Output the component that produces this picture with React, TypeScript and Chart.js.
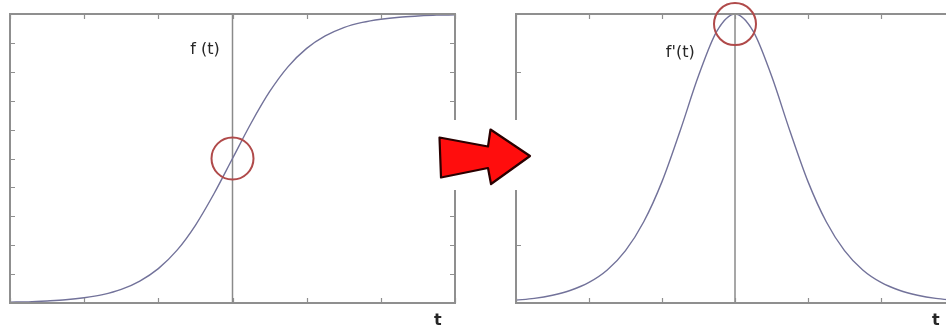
import React, { useEffect, useRef } from "react";
import { Chart, registerables } from "chart.js";

Chart.register(...registerables);

// ---- data ----
const tValues = [-3, -2.75, -2.5, -2.25, -2, -1.75, -1.5, -1.25, -1, -0.75, -0.5, -0.25, 0, 0.25, 0.5, 0.75, 1, 1.25, 1.5, 1.75, 2, 2.25, 2.5, 2.75, 3];
const sigmoidValues = [0.003, 0.004, 0.007, 0.011, 0.018, 0.029, 0.047, 0.076, 0.119, 0.182, 0.269, 0.378, 0.5, 0.622, 0.731, 0.818, 0.881, 0.924, 0.953, 0.971, 0.982, 0.989, 0.993, 0.996, 0.997];
const derivativeValues = [0.01, 0.016, 0.027, 0.044, 0.071, 0.114, 0.181, 0.281, 0.42, 0.597, 0.786, 0.94, 1.0, 0.94, 0.786, 0.597, 0.42, 0.281, 0.181, 0.114, 0.071, 0.044, 0.027, 0.016, 0.01];
const xTicks = [-3, -2, -1, 0, 1, 2, 3];
const leftYTicks = [0, 0.1, 0.2, 0.3, 0.4, 0.5, 0.6, 0.7, 0.8, 0.9, 1];
const rightYTicks = [0, 0.2, 0.4, 0.6, 0.8, 1];
const centerLine = [0, 1];
const leftMarker = { x: 0, y: 0.5 };
const rightMarker = { x: 0, y: 0.965 };
const leftLabel = { text: "f (t)", x: -0.37, y: 0.875 };
const rightLabel = { text: "f'(t)", x: -0.75, y: 0.865 };
const axisLabel = "t";
const leftAxisLabelX = 2.77;
const rightAxisLabelX = 2.75;

type PanelCfg = {
  values: number[];
  yTicks: number[];
  marker: { x: number; y: number };
  label: { text: string; x: number; y: number };
  axisLabelX: number;
  padding: { left: number; right: number; top: number; bottom: number };
};

const framePlugin = {
  id: "frameTicks",
  afterDatasetsDraw(chart: any, _args: any, opts: any) {
    const { ctx, chartArea: a, scales } = chart;
    const xs = scales.x;
    const ys = scales.y;
    ctx.save();
    // frame
    ctx.strokeStyle = "#8f8f8f";
    ctx.lineWidth = 2;
    ctx.strokeRect(a.left, a.top, a.right - a.left, a.bottom - a.top);
    // inward ticks
    ctx.lineWidth = 1.2;
    ctx.strokeStyle = "#8f8f8f";
    const tl = 5;
    for (const v of xTicks) {
      const px = Math.round(xs.getPixelForValue(v)) + 0.5;
      ctx.beginPath();
      ctx.moveTo(px, a.bottom);
      ctx.lineTo(px, a.bottom - tl);
      ctx.moveTo(px, a.top);
      ctx.lineTo(px, a.top + tl);
      ctx.stroke();
    }
    for (const v of opts.yTicks as number[]) {
      const py = Math.round(ys.getPixelForValue(v)) + 0.5;
      ctx.beginPath();
      ctx.moveTo(a.left, py);
      ctx.lineTo(a.left + tl, py);
      ctx.moveTo(a.right, py);
      ctx.lineTo(a.right - tl, py);
      ctx.stroke();
    }
    // marker circle
    const m = opts.marker;
    ctx.strokeStyle = "#b04a4a";
    ctx.lineWidth = 2;
    ctx.beginPath();
    ctx.arc(xs.getPixelForValue(m.x), ys.getPixelForValue(m.y), 21, 0, Math.PI * 2);
    ctx.stroke();
    // labels
    ctx.fillStyle = "#262626";
    ctx.font = "16px 'DejaVu Sans', sans-serif";
    ctx.textAlign = "center";
    ctx.textBaseline = "middle";
    const l = opts.label;
    ctx.fillText(l.text, xs.getPixelForValue(l.x), ys.getPixelForValue(l.y));
    ctx.font = "bold 16px 'DejaVu Sans', sans-serif";
    ctx.fillText(axisLabel, xs.getPixelForValue(opts.axisLabelX), a.bottom + 18);
    ctx.restore();
  },
};

function Panel({ cfg, left, width }: { cfg: PanelCfg; left: number; width: number }) {
  const ref = useRef<HTMLCanvasElement | null>(null);
  useEffect(() => {
    if (!ref.current) return;
    const chart = new Chart(ref.current, {
      type: "line",
      data: {
        datasets: [
          {
            data: tValues.map((t, i) => ({ x: t, y: cfg.values[i] })),
            borderColor: "#72729a",
            borderWidth: 1.4,
            pointRadius: 0,
            cubicInterpolationMode: "monotone",
            fill: false,
          },
          {
            data: centerLine.map((v) => ({ x: 0, y: v })),
            borderColor: "#8a8a8a",
            borderWidth: 1.5,
            pointRadius: 0,
            fill: false,
          },
        ],
      },
      options: {
        responsive: false,
        animation: false,
        devicePixelRatio: 1,
        layout: { padding: cfg.padding },
        scales: {
          x: { type: "linear", min: -3, max: 3, display: false },
          y: { type: "linear", min: 0, max: 1, display: false },
        },
        plugins: {
          legend: { display: false },
          tooltip: { enabled: false },
          frameTicks: {
            yTicks: cfg.yTicks,
            marker: cfg.marker,
            label: cfg.label,
            axisLabelX: cfg.axisLabelX,
          },
        } as any,
      },
      plugins: [framePlugin],
    } as any);
    return () => chart.destroy();
  }, []);
  return (
    <canvas
      ref={ref}
      width={width}
      height={331}
      style={{ position: "absolute", left, top: 0, width, height: 331, display: "block" }}
    />
  );
}

export default function App() {
  const leftCfg: PanelCfg = {
    values: sigmoidValues,
    yTicks: leftYTicks,
    marker: leftMarker,
    label: leftLabel,
    axisLabelX: leftAxisLabelX,
    padding: { left: 10, right: 15, top: 14, bottom: 28 },
  };
  const rightCfg: PanelCfg = {
    values: derivativeValues,
    yTicks: rightYTicks,
    marker: rightMarker,
    label: rightLabel,
    axisLabelX: rightAxisLabelX,
    padding: { left: 46, right: 16, top: 14, bottom: 28 },
  };
  return (
    <div
      style={{
        position: "fixed",
        left: 0,
        top: 0,
        width: 946,
        height: 331,
        overflow: "hidden",
        background: "#ffffff",
      }}
    >
      <Panel cfg={leftCfg} left={0} width={470} />
      <Panel cfg={rightCfg} left={470} width={500} />
      <svg
        width={946}
        height={331}
        style={{ position: "absolute", left: 0, top: 0, pointerEvents: "none" }}
      >
        <rect x={436} y={120} width={97} height={70} fill="#ffffff" />
        <polygon
          points="439.5,137.5 488,146.5 490.5,129.5 530,156 491,184 488,168 441,177.5"
          fill="#ff0d0d"
          stroke="#2a0000"
          strokeWidth={2.2}
          strokeLinejoin="round"
        />
      </svg>
    </div>
  );
}
